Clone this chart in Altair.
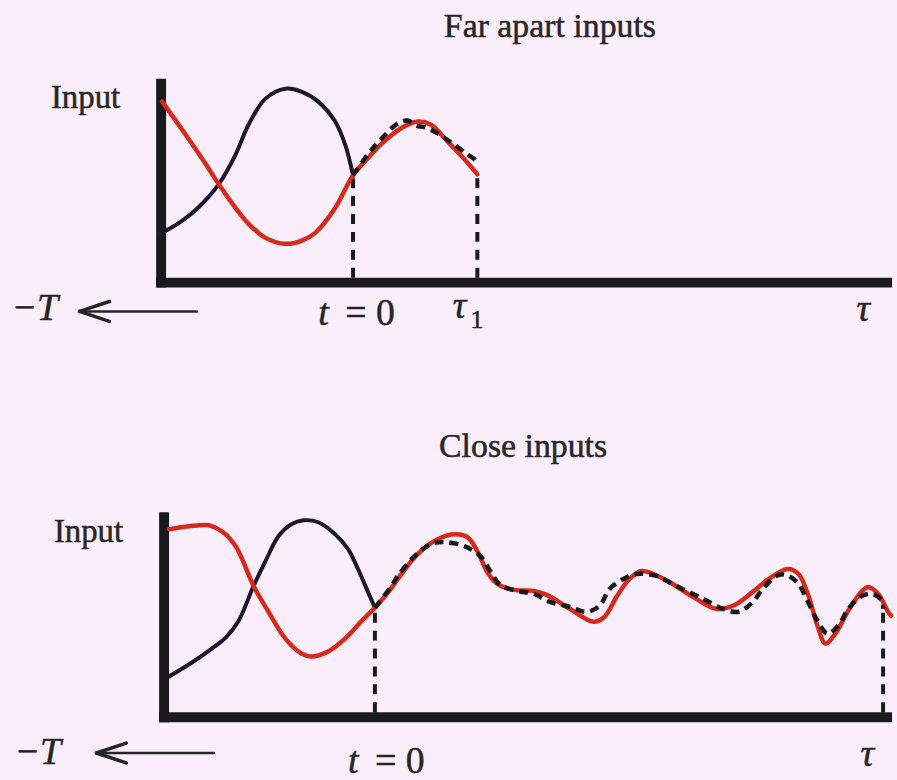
import altair as alt
import pandas as pd

# ---------------------------------------------------------------------------
# Panel 1: far apart inputs.  t = time from the switch point, u = input level
# ---------------------------------------------------------------------------
far_t_red = [-1.92, -1.72, -1.52, -1.35, -1.18, -1.05, -0.88, -0.68, -0.52, -0.38,
             -0.18, 0.00, 0.15, 0.28, 0.48, 0.65, 0.78, 0.95, 1.12, 1.25]
far_u_red = [1.82, 1.54, 1.25, 0.99, 0.75, 0.59, 0.45, 0.39, 0.42, 0.50,
             0.75, 1.08, 1.25, 1.39, 1.55, 1.62, 1.59, 1.42, 1.24, 1.09]
far_t_black = [-1.95, -1.85, -1.72, -1.55, -1.35, -1.18, -1.05, -0.88, -0.68, -0.52,
               -0.35, -0.18, -0.08, 0.00]
far_u_black = [0.49, 0.54, 0.62, 0.76, 0.99, 1.29, 1.59, 1.85, 1.95, 1.92,
               1.82, 1.62, 1.39, 1.08]
far_t_dash = [0.00, 0.15, 0.28, 0.45, 0.55, 0.63, 0.73, 0.85, 1.00, 1.15, 1.23, 1.25]
far_u_dash = [1.08, 1.29, 1.44, 1.60, 1.63, 1.58, 1.56, 1.50, 1.40, 1.29, 1.23, 1.18]
far_switch_t = [0.00, 1.25]
far_switch_top = [1.07, 1.09]
far_axis_t = -1.93
far_axis_top = 2.05
far_xdom = [-3.55, 5.42]
far_ydom = [-1.08, 2.82]

# ---------------------------------------------------------------------------
# Panel 2: close inputs
# ---------------------------------------------------------------------------
close_t_red = [-2.07, -1.87, -1.67, -1.54, -1.40, -1.22, -1.07, -0.90, -0.74, -0.64,
               -0.47, -0.30, -0.14, 0.00, 0.16, 0.23, 0.43, 0.63, 0.81, 0.93,
               1.03, 1.13, 1.23, 1.40, 1.60, 1.73, 1.96, 2.20, 2.31, 2.43,
               2.56, 2.68, 2.80, 2.96, 3.23, 3.43, 3.60, 3.80, 3.96, 4.15,
               4.26, 4.36, 4.45, 4.53, 4.63, 4.76, 4.90, 4.96, 5.06, 5.16, 5.19]
close_u_red = [1.89, 1.92, 1.93, 1.87, 1.72, 1.32, 1.06, 0.79, 0.64, 0.61,
               0.66, 0.79, 0.96, 1.10, 1.29, 1.39, 1.64, 1.79, 1.84, 1.81,
               1.67, 1.46, 1.34, 1.28, 1.27, 1.23, 1.09, 0.96, 1.01, 1.21,
               1.39, 1.47, 1.44, 1.36, 1.19, 1.09, 1.12, 1.26, 1.39, 1.49,
               1.44, 1.22, 0.92, 0.74, 0.84, 1.07, 1.27, 1.31, 1.24, 1.06, 1.02]
close_t_black = [-2.07, -1.84, -1.64, -1.50, -1.37, -1.22, -1.10, -0.97, -0.84, -0.72,
                 -0.57, -0.40, -0.27, -0.17, -0.07, 0.00]
close_u_black = [0.41, 0.55, 0.69, 0.80, 0.97, 1.32, 1.57, 1.82, 1.94, 1.98,
                 1.96, 1.84, 1.69, 1.49, 1.26, 1.10]
close_t_dash = [0.00, 0.16, 0.23, 0.40, 0.56, 0.70, 0.90, 1.06, 1.16, 1.26,
                1.43, 1.60, 1.76, 1.96, 2.13, 2.26, 2.36, 2.50, 2.63, 2.83,
                3.03, 3.30, 3.50, 3.66, 3.80, 3.90, 4.06, 4.16, 4.26, 4.35,
                4.45, 4.55, 4.66, 4.76, 4.90, 5.00, 5.10, 5.11]
close_u_dash = [1.10, 1.31, 1.42, 1.62, 1.74, 1.76, 1.72, 1.62, 1.47, 1.33,
                1.27, 1.24, 1.16, 1.11, 1.06, 1.12, 1.29, 1.39, 1.44, 1.42,
                1.32, 1.19, 1.09, 1.06, 1.16, 1.29, 1.43, 1.42, 1.34, 1.17,
                0.97, 0.84, 0.92, 1.09, 1.22, 1.24, 1.17, 1.09]
close_switch_t = [0.00, 5.11]
close_switch_top = [1.08, 1.07]
close_axis_t = -2.12
close_axis_top = 2.06
close_xdom = [-3.77, 5.20]
close_ydom = [-0.61, 3.29]

# Text labels: (text, t, u, font size, style, align)
far_labels = [
    ("Far apart inputs", 1.98, 2.47, 34, "normal", "center"),
    ("Input", -2.69, 1.76, 33, "normal", "center"),
    ("\u2212T", -3.20, -0.38, 38, "italic", "center"),
    ("t", -0.35, -0.43, 38, "italic", "left"),
    ("= 0", 0.42, -0.43, 38, "normal", "right"),
    ("\u03c4", 1.07, -0.36, 38, "italic", "center"),
    ("1", 1.18, -0.46, 26, "normal", "left"),
    ("\u03c4", 5.13, -0.39, 38, "italic", "center"),
]
far_arrow = (-2.75, -1.57, -0.29)   # tip, tail, level

close_labels = [
    ("Close inputs", 1.49, 2.62, 34, "normal", "center"),
    ("Input", -2.88, 1.76, 33, "normal", "center"),
    ("\u2212T", -3.39, -0.47, 38, "italic", "center"),
    ("t", -0.27, -0.56, 38, "italic", "left"),
    ("= 0", 0.50, -0.56, 38, "normal", "right"),
    ("\u03c4", 4.95, -0.49, 38, "italic", "center"),
]
close_arrow = (-2.80, -1.62, -0.36)

RED = "#d52a1c"
DARK = "#1d1830"
INK = "#1a1a1e"
TEXT = "#262626"
SERIF = "Liberation Serif"
BG = "#faeefa"


def panel(t_red, u_red, t_blk, u_blk, t_dash, u_dash, sw_t, sw_top,
          axis_t, axis_top, xdom, ydom, labels, arrow):
    def X(f):
        return alt.X(f, type="quantitative",
                     scale=alt.Scale(domain=xdom, nice=False, zero=False), axis=None)

    def Y(f):
        return alt.Y(f, type="quantitative",
                     scale=alt.Scale(domain=ydom, nice=False, zero=False), axis=None)

    red = pd.DataFrame({"t": t_red, "u": u_red})
    blk = pd.DataFrame({"t": t_blk, "u": u_blk})
    dsh = pd.DataFrame({"t": t_dash, "u": u_dash})
    sw = pd.DataFrame({"t": sw_t, "lo": [0.05] * len(sw_t), "hi": sw_top})

    # thick axis frame: vertical input axis and horizontal time axis
    frame = pd.DataFrame({
        "t": [axis_t, axis_t - 0.05],
        "t2": [axis_t, xdom[1]],
        "u": [-0.05, 0.0],
        "u2": [axis_top, 0.0],
    })

    tip, tail, lev = arrow
    arr = pd.DataFrame({
        "t": [tip, tip, tip],
        "t2": [tail, tip + 0.30, tip + 0.30],
        "u": [lev, lev, lev],
        "u2": [lev, lev + 0.10, lev - 0.10],
        "w": [2.5, 3.5, 3.5],
    })

    curve = dict(interpolate="catmull-rom", strokeCap="round", strokeJoin="round")
    layers = [
        alt.Chart(frame).mark_rule(color=INK, strokeCap="butt").encode(
            x=X("t"), x2="t2", y=Y("u"), y2="u2", strokeWidth=alt.value(10)),
        alt.Chart(sw).mark_rule(color=INK, strokeWidth=4, strokeDash=[10, 8]).encode(
            x=X("t"), y=Y("lo"), y2="hi"),
        alt.Chart(blk).mark_line(color=DARK, strokeWidth=4, **curve).encode(
            x=X("t"), y=Y("u")),
        alt.Chart(red).mark_line(color=RED, strokeWidth=4.5, **curve).encode(
            x=X("t"), y=Y("u")),
        alt.Chart(dsh).mark_line(color=INK, strokeWidth=4.5, strokeDash=[9, 6],
                                 interpolate="catmull-rom").encode(x=X("t"), y=Y("u")),
        alt.Chart(arr).mark_rule(color=TEXT, strokeCap="round").encode(
            x=X("t"), x2="t2", y=Y("u"), y2="u2",
            strokeWidth=alt.StrokeWidth("w:Q", scale=None)),
    ]

    for text, t, u, size, style, align in labels:
        df = pd.DataFrame({"label": [text], "t": [t], "u": [u]})
        layers.append(alt.Chart(df).mark_text(
            font=SERIF, fontSize=size, fontStyle=style, align=align,
            baseline="alphabetic", color=TEXT, stroke=TEXT, strokeWidth=0.5
        ).encode(x=X("t"), y=Y("u"), text="label:N"))

    return alt.layer(*layers).properties(width=897, height=390)


top = panel(far_t_red, far_u_red, far_t_black, far_u_black, far_t_dash, far_u_dash,
            far_switch_t, far_switch_top, far_axis_t, far_axis_top, far_xdom, far_ydom,
            far_labels, far_arrow)

bottom = panel(close_t_red, close_u_red, close_t_black, close_u_black, close_t_dash,
               close_u_dash, close_switch_t, close_switch_top, close_axis_t,
               close_axis_top, close_xdom, close_ydom, close_labels, close_arrow)

chart = alt.vconcat(top, bottom, spacing=0, bounds="flush").properties(
    background=BG, padding=0
).configure_view(stroke=None)

chart.save("out.html", embed_options={"renderer": "svg", "actions": False})
